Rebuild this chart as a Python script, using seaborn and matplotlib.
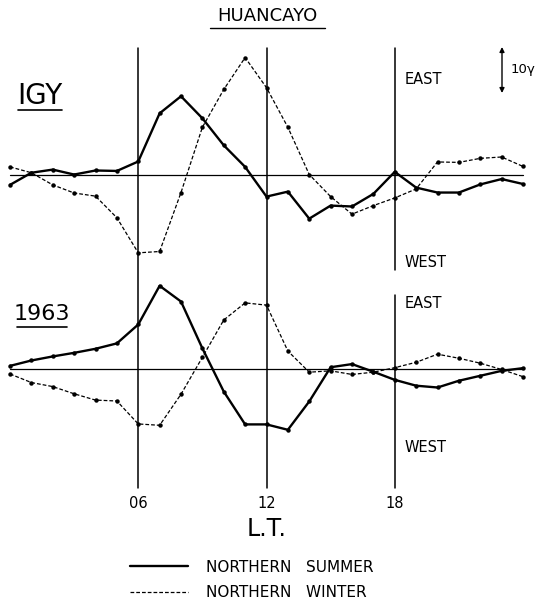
import numpy as np
import pandas as pd
import matplotlib
matplotlib.use("Agg")
import matplotlib.pyplot as plt
from matplotlib.lines import Line2D
import seaborn as sns

# local time, hours
hours = list(range(0, 25))

# Huancayo, IGY (gamma, east positive)
igy_summer = [-2.2, 0.5, 1.2, 0.1, 1.0, 0.9, 3.0, 13.7, 17.5, 12.6, 6.6, 1.8, -4.8,
              -3.7, -9.7, -6.8, -7.0, -4.2, 0.7, -2.8, -3.9, -3.9, -2.1, -0.9, -2.0]
igy_winter = [1.8, 0.5, -2.2, -4.0, -4.7, -9.5, -17.3, -17.0, -3.9, 10.6, 19.0, 26.1, 19.4,
              10.6, 0.1, -4.8, -8.7, -6.8, -5.1, -3.1, 2.9, 2.8, 3.7, 4.0, 1.9]

# Huancayo, 1963
y63_summer = [0.8, 2.0, 2.9, 3.7, 4.6, 5.8, 10.0, 18.6, 15.1, 4.7, -4.9, -12.2, -12.2,
              -13.4, -7.1, 0.5, 1.2, -0.5, -2.3, -3.6, -4.0, -2.5, -1.4, -0.3, 0.3]
y63_winter = [-1.0, -2.9, -3.8, -5.4, -6.8, -7.0, -12.1, -12.4, -5.5, 2.7, 11.0, 14.8, 14.3,
              4.1, -0.6, -0.3, -1.1, -0.6, 0.4, 1.6, 3.4, 2.5, 1.4, 0.0, -1.6]

tick_pos = [6, 12, 18]
tick_labels = ["06", "12", "18"]

W, H = 538, 602


def fx(px):
    return px / W


def fy(py):
    return 1 - py / H


sns.set_style("white")
plt.rcParams["font.family"] = ["DejaVu Sans"]
plt.rcParams["text.color"] = "black"
plt.rcParams["axes.labelcolor"] = "black"
plt.rcParams["xtick.color"] = "black"

fig = plt.figure(figsize=(W / 100, H / 100), dpi=100)

# panel boxes in pixels: (top, bottom)
ax1 = fig.add_axes([fx(10), fy(282), fx(513), 242 / H])
ax2 = fig.add_axes([fx(10), fy(492), fx(513), 210 / H])

summer_kw = dict(color="black", lw=1.7, marker="o", markersize=3.2, markeredgewidth=0)
winter_kw = dict(color="black", lw=0.9, linestyle=(0, (3, 1.6)), marker="o",
                 markersize=3.2, markeredgewidth=0)

for ax, s, w in [(ax1, igy_summer, igy_winter), (ax2, y63_summer, y63_winter)]:
    sns.lineplot(x=hours, y=s, ax=ax, **summer_kw)
    sns.lineplot(x=hours, y=w, ax=ax, **winter_kw)
    ax.axhline(0, color="black", lw=0.9)
    ax.set_xlim(0, 24)
    for sp in ax.spines.values():
        sp.set_visible(False)
    ax.set_yticks([])
    for l in ax.lines:
        l.set_clip_on(False)

ax1.set_ylim(-23.78, 30)
ax2.set_ylim(-27.22, 19.44)

# vertical guides
for h in [6, 12]:
    ax1.axvline(h, ymin=0, ymax=0.967, color="black", lw=1.1)
    ax2.axvline(h, ymin=0.019, ymax=1, color="black", lw=1.1)
ax1.axvline(18, ymin=0.05, ymax=0.967, color="black", lw=1.1)
ax2.axvline(18, ymin=0.019, ymax=0.938, color="black", lw=1.1)

ax1.set_xticks([])
ax2.set_xticks(tick_pos)
ax2.set_xticklabels(tick_labels, fontsize=10.5)
ax2.tick_params(axis="x", length=0, pad=3)
ax2.set_xlabel("L.T.", fontsize=17, labelpad=4)

# titles and labels
fig.text(fx(267), fy(16), "HUANCAYO", fontsize=13, ha="center", va="center")
fig.add_artist(Line2D([fx(210), fx(325)], [fy(28), fy(28)], color="black", lw=1))
fig.text(fx(40), fy(96), "IGY", fontsize=20, ha="center", va="center")
fig.add_artist(Line2D([fx(18), fx(62)], [fy(110), fy(110)], color="black", lw=1.2))
fig.text(fx(42), fy(314), "1963", fontsize=16, ha="center", va="center")
fig.add_artist(Line2D([fx(17), fx(67)], [fy(327), fy(327)], color="black", lw=1.2))

for y, t in [(79, "EAST"), (262, "WEST"), (304, "EAST"), (448, "WEST")]:
    fig.text(fx(405), fy(y), t, fontsize=10.5, ha="left", va="center")

# scale arrow
fig.add_artist(plt.Annotation("", xy=(fx(502), fy(47)), xytext=(fx(502), fy(93)),
                              xycoords="figure fraction", textcoords="figure fraction",
                              arrowprops=dict(arrowstyle="<|-|>", color="black", lw=1,
                                              mutation_scale=7, shrinkA=0, shrinkB=0)))
fig.text(fx(511), fy(69), "10\u03b3", fontsize=9.5, ha="left", va="center")

handles = [Line2D([], [], color="black", lw=1.7),
           Line2D([], [], color="black", lw=0.9, linestyle=(0, (3, 1.6)))]
fig.legend(handles, ["NORTHERN   SUMMER", "NORTHERN   WINTER"], loc="upper left",
           bbox_to_anchor=(fx(122), fy(552)), frameon=False, fontsize=11,
           handlelength=3.8, handletextpad=1.2, labelspacing=0.7, borderpad=0)

fig.savefig("out.png", dpi=100, facecolor="white")
